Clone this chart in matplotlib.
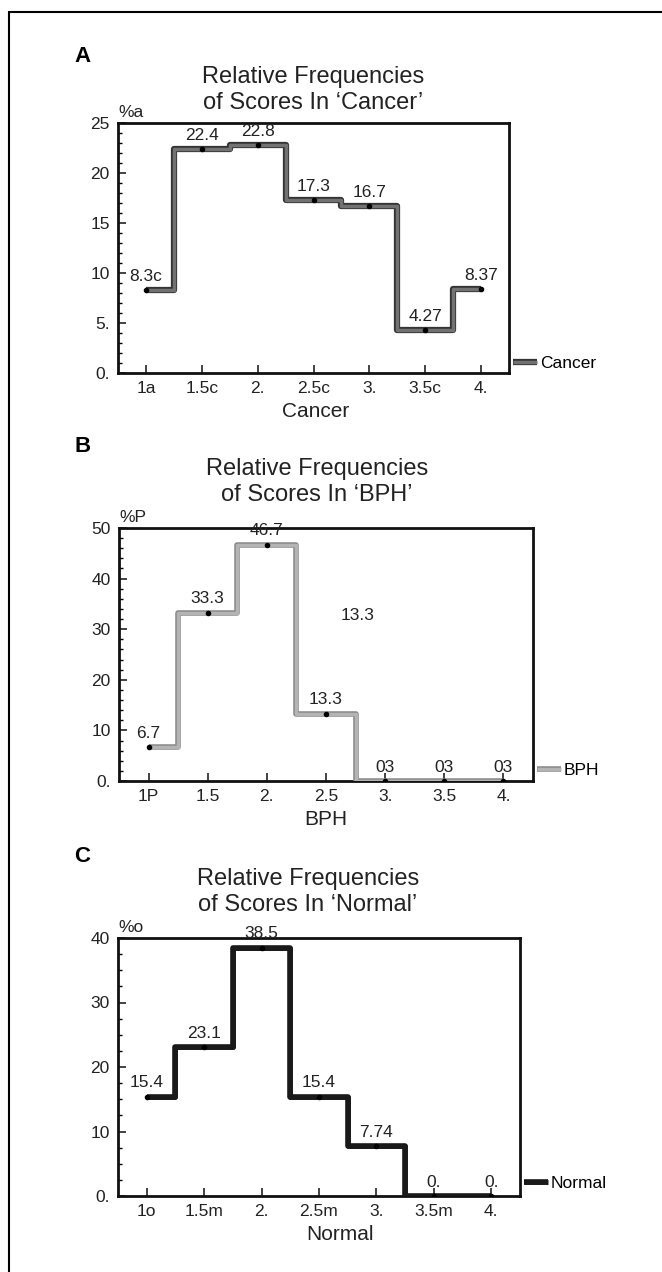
import matplotlib
matplotlib.use("Agg")
import matplotlib.pyplot as plt
from matplotlib import patheffects as pe
from matplotlib.patches import Rectangle
from matplotlib.ticker import MultipleLocator

plt.rcParams["font.family"] = ["Liberation Sans", "DejaVu Sans"]

# data
scores = [1, 1.5, 2, 2.5, 3, 3.5, 4]

cancer_pct = [8.3, 22.4, 22.8, 17.3, 16.7, 4.27, 8.37]
cancer_lbl = ["8.3c", "22.4", "22.8", "17.3", "16.7", "4.27", "8.37"]
cancer_xticks = ["1a", "1.5c", "2.", "2.5c", "3.", "3.5c", "4."]
cancer_yticks = ["0.", "5.", "10", "15", "20", "25"]

bph_pct = [6.7, 33.3, 46.7, 13.3, 0, 0, 0]
bph_lbl = ["6.7", "33.3", "46.7", "13.3", "03", "03", "03"]
bph_xticks = ["1P", "1.5", "2.", "2.5", "3.", "3.5", "4."]
bph_yticks = ["0.", "10", "20", "30", "40", "50"]

normal_pct = [15.4, 23.1, 38.5, 15.4, 7.74, 0, 0]
normal_lbl = ["15.4", "23.1", "38.5", "15.4", "7.74", "0.", "0."]
normal_xticks = ["1o", "1.5m", "2.", "2.5m", "3.", "3.5m", "4."]
normal_yticks = ["0.", "10", "20", "30", "40"]

W, H = 662, 1272
FS = 12.5
fig = plt.figure(figsize=(W / 100, H / 100), dpi=100)


def px_axes(left, top, right, bottom):
    return fig.add_axes([left / W, 1 - bottom / H, (right - left) / W, (bottom - top) / H])


def draw_panel(ax, vals, lbls, xt, yt, ymax, ymaj, ymin, name, ylab,
               inner, edge, lw_in, lw_out, xlab_x, leg_y):
    ax.plot(scores, vals, drawstyle="steps-mid", color=inner, lw=lw_in,
            solid_capstyle="butt", label=name, zorder=3,
            path_effects=[pe.Stroke(linewidth=lw_out, foreground=edge), pe.Normal()])
    ax.plot(scores, vals, "o", color="black", ms=3, zorder=4)
    for x, v, s in zip(scores, vals, lbls):
        ax.annotate(s, (x, v), xytext=(0, 4.5), textcoords="offset points",
                    ha="center", va="bottom", fontsize=FS, color="#222222")
    ax.set_xlim(0.75, 4.25)
    ax.set_ylim(0, ymax)
    ax.set_xticks(scores)
    ax.set_xticklabels(xt)
    ax.set_yticks([i * ymaj for i in range(len(yt))])
    ax.set_yticklabels(yt)
    ax.yaxis.set_minor_locator(MultipleLocator(ymin))
    ax.tick_params(direction="in", length=6, width=1.2, labelsize=FS,
                   pad=6, colors="#222222")
    ax.tick_params(which="minor", direction="in", length=3, width=1)
    ax.tick_params(axis="x", which="minor", bottom=False)
    for sp in ax.spines.values():
        sp.set_linewidth(2)
        sp.set_color("#111111")
    ax.set_xlabel(name, fontsize=15, labelpad=4, x=xlab_x, color="#222222")
    ax.text(0.0, 1.012, ylab, transform=ax.transAxes, ha="left", va="bottom",
            fontsize=FS, color="#222222")
    leg = ax.legend(loc="center left", bbox_to_anchor=(1.01, leg_y), frameon=False,
                    fontsize=FS, handlelength=1.4, handletextpad=0.15,
                    borderpad=0, borderaxespad=0)
    return leg


axA = px_axes(118, 123, 509, 373)
draw_panel(axA, cancer_pct, cancer_lbl, cancer_xticks, cancer_yticks, 25, 5, 1,
           "Cancer", "%a", "#727272", "#333333", 2.5, 4.5, 0.506, 0.04)

axB = px_axes(119, 528, 533, 781)
draw_panel(axB, bph_pct, bph_lbl, bph_xticks, bph_yticks, 50, 10, 2,
           "BPH", "%P", "#b4b4b4", "#8a8a8a", 2.5, 4.0, 0.5, 0.043)
# stray value label printed in the middle of panel B
axB.text(2.77, 32.8, "13.3", ha="center", va="center", fontsize=FS, color="#222222")

axC = px_axes(118, 938, 520, 1196)
draw_panel(axC, normal_pct, normal_lbl, normal_xticks, normal_yticks, 40, 10, 2.5,
           "Normal", "%o", "#1a1a1a", "#111111", 3.5, 4.0, 0.552, 0.05)

# titles and panel letters
titles = [("Relative Frequencies\nof Scores In \u2018Cancer\u2019", 313, 90),
          ("Relative Frequencies\nof Scores In \u2018BPH\u2019", 317, 482),
          ("Relative Frequencies\nof Scores In \u2018Normal\u2019", 308, 892)]
for t, x, y in titles:
    fig.text(x / W, 1 - y / H, t, ha="center", va="center", fontsize=17,
             linespacing=1.2, color="#222222")

for letter, y in [("A", 57), ("B", 447), ("C", 857)]:
    fig.text(74 / W, 1 - y / H, letter, ha="left", va="center", fontsize=16,
             fontweight="bold")

# outer frame (only left and top edges visible)
fig.add_artist(Rectangle((9 / W, -0.1), 1.2, 1.1 - 12 / H, transform=fig.transFigure,
                         fill=False, lw=1.5, ec="black"))

fig.savefig("out.png", dpi=100)
